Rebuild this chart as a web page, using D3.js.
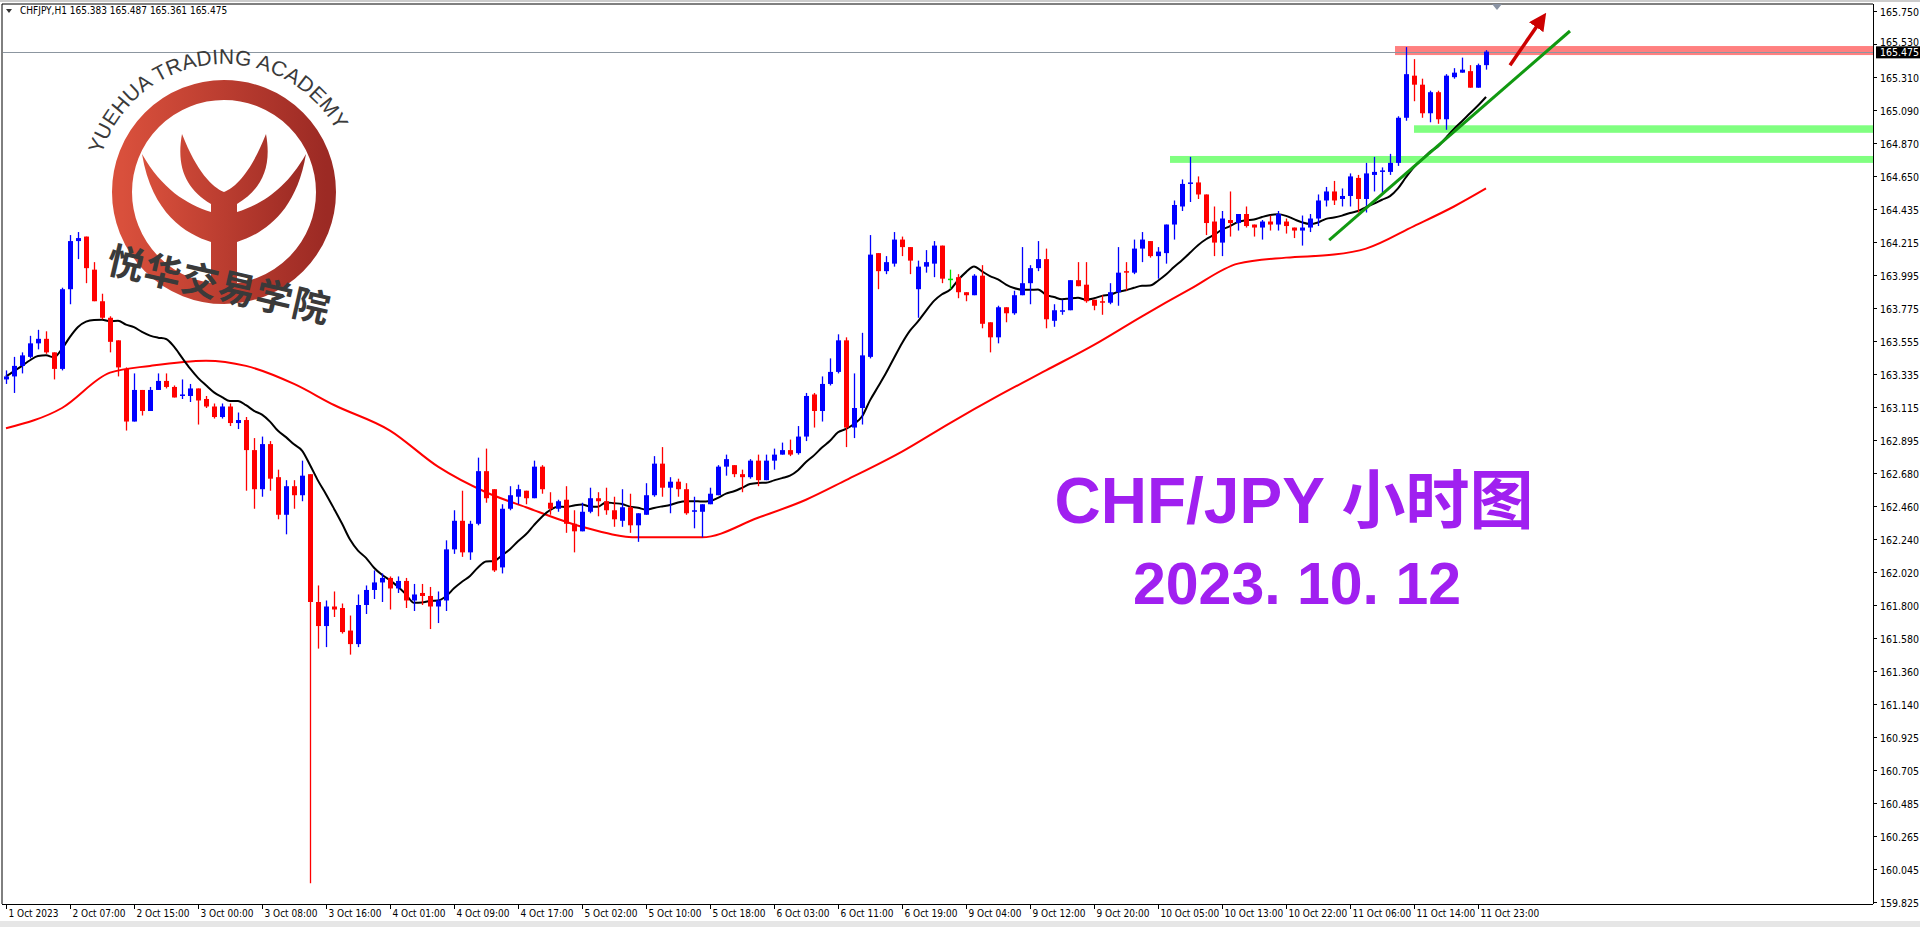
<!DOCTYPE html>
<html><head><meta charset="utf-8">
<script src="https://cdn.jsdelivr.net/npm/d3@7/dist/d3.min.js"></script>
<style>html,body{margin:0;padding:0;background:#fff;overflow:hidden}</style>
</head><body><svg id="c" width="1920" height="927"></svg>
<script>
const opens=[163.30,163.32,163.39,163.45,163.54,163.57,163.48,163.37,163.90,164.22,164.25,164.03,163.82,163.71,163.56,163.37,163.02,163.23,163.09,163.23,163.29,163.25,163.19,163.19,163.24,163.17,163.12,163.05,163.12,163.01,
163.03,162.83,162.57,162.87,162.65,162.40,162.59,162.53,162.67,161.82,161.66,161.79,161.78,161.63,161.54,161.80,161.90,161.95,161.98,161.91,161.96,161.83,161.88,161.86,161.79,161.83,162.17,162.36,162.15,162.34,
162.69,162.57,162.05,162.44,162.52,162.56,162.51,162.72,162.48,162.44,162.50,162.34,162.29,162.42,162.51,162.49,162.43,162.36,162.45,162.33,162.40,162.53,162.74,162.58,162.62,162.57,162.42,162.42,162.47,162.53,
162.72,162.73,162.67,162.65,162.76,162.63,162.76,162.80,162.83,162.81,162.92,163.20,163.09,163.27,163.35,163.56,162.98,163.11,163.45,164.14,164.02,164.07,164.23,164.18,163.90,164.05,164.07,164.19,163.97,163.98,
163.88,163.86,163.99,163.68,163.58,163.78,163.74,163.86,163.94,164.04,164.10,163.69,163.75,163.76,163.96,163.93,163.83,163.82,163.81,163.88,164.02,164.01,164.17,164.22,164.12,164.14,164.33,164.45,164.60,164.61,
164.53,164.35,164.21,164.36,164.34,164.40,164.33,164.31,164.35,164.33,164.35,164.31,164.29,164.31,164.37,164.49,164.55,164.50,164.52,164.64,164.50,164.66,164.68,164.68,164.74,165.04,165.32,165.26,165.07,165.21,
165.03,165.31,165.34,165.35,165.24,165.39];
const highs=[163.36,163.45,163.48,163.59,163.63,163.62,163.48,163.91,164.26,164.28,164.25,164.08,163.87,163.72,163.56,163.38,163.34,163.23,163.25,163.34,163.34,163.26,163.30,163.27,163.24,163.19,163.14,163.14,163.14,163.08,
163.05,162.91,162.92,162.89,162.70,162.63,162.63,162.76,162.67,161.93,161.83,161.89,161.81,161.73,161.87,161.93,162.03,162.01,161.99,161.99,161.98,161.94,161.94,161.92,161.89,162.23,162.43,162.56,162.36,162.78,
162.84,162.57,162.47,162.59,162.60,162.56,162.76,162.73,162.55,162.50,162.59,162.43,162.48,162.58,162.55,162.58,162.52,162.57,162.54,162.41,162.61,162.79,162.85,162.65,162.64,162.61,162.52,162.47,162.58,162.73,
162.80,162.73,162.70,162.77,162.80,162.80,162.84,162.88,162.90,162.99,163.21,163.21,163.32,163.44,163.60,163.58,163.34,163.61,164.26,164.14,164.12,164.28,164.25,164.18,164.09,164.16,164.22,164.19,164.03,164.00,
163.88,164.00,164.06,163.68,163.79,163.78,163.89,164.18,164.06,164.22,164.17,163.80,163.83,163.96,164.08,164.08,163.83,163.86,163.94,164.18,164.08,164.23,164.28,164.22,164.18,164.33,164.49,164.63,164.78,164.65,
164.53,164.45,164.42,164.55,164.40,164.45,164.33,164.36,164.39,164.42,164.37,164.31,164.39,164.40,164.53,164.58,164.62,164.57,164.67,164.66,164.74,164.78,164.71,164.80,165.05,165.51,165.43,165.30,165.22,165.22,
165.33,165.37,165.44,165.39,165.40,165.49];
const lows=[163.27,163.21,163.34,163.44,163.50,163.47,163.30,163.36,163.80,164.10,163.94,163.82,163.70,163.48,163.32,162.96,163.02,163.06,163.09,163.23,163.24,163.18,163.17,163.15,163.00,163.11,163.04,163.04,162.99,162.97,
162.56,162.44,162.52,162.56,162.37,162.27,162.44,162.49,159.95,161.51,161.52,161.72,161.61,161.47,161.52,161.74,161.84,161.82,161.77,161.88,161.78,161.76,161.80,161.64,161.68,161.76,162.14,162.12,162.10,162.33,
162.48,162.02,162.01,162.43,162.47,162.47,162.51,162.54,162.40,162.42,162.28,162.15,162.29,162.41,162.39,162.40,162.32,162.32,162.28,162.22,162.40,162.52,162.52,162.41,162.52,162.40,162.31,162.25,162.47,162.53,
162.66,162.65,162.55,162.64,162.59,162.63,162.70,162.80,162.79,162.80,162.89,162.98,163.02,163.26,163.34,162.85,162.91,163.00,163.44,163.90,164.00,164.05,164.12,164.00,163.71,164.01,163.98,163.94,163.90,163.84,
163.82,163.86,163.64,163.48,163.54,163.68,163.73,163.86,163.80,164.02,163.64,163.65,163.73,163.76,163.92,163.81,163.76,163.73,163.80,163.79,163.89,164.00,164.08,164.11,163.97,164.07,164.23,164.42,164.48,164.50,
164.26,164.12,164.12,164.25,164.29,164.31,164.25,164.23,164.29,164.29,164.27,164.24,164.19,164.28,164.32,164.45,164.46,164.45,164.45,164.41,164.41,164.55,164.54,164.66,164.72,165.02,165.15,165.04,165.01,165.00,
164.96,165.30,165.34,165.24,165.24,165.36];
const closes=[163.32,163.39,163.46,163.54,163.57,163.48,163.37,163.90,164.22,164.24,164.04,163.82,163.71,163.55,163.38,163.02,163.23,163.09,163.23,163.29,163.25,163.18,163.20,163.24,163.16,163.12,163.05,163.12,163.01,163.03,
162.83,162.57,162.87,162.64,162.40,162.59,162.53,162.66,161.82,161.66,161.79,161.77,161.62,161.54,161.80,161.90,161.95,161.98,161.91,161.96,161.83,161.87,161.86,161.79,161.83,162.17,162.36,162.15,162.34,162.69,
162.51,162.03,162.44,162.53,162.57,162.51,162.72,162.57,162.44,162.49,162.34,162.29,162.42,162.51,162.49,162.43,162.37,162.45,162.33,162.41,162.53,162.74,162.58,162.62,162.57,162.41,162.43,162.47,162.54,162.72,
162.77,162.67,162.65,162.76,162.63,162.76,162.80,162.83,162.80,162.92,163.19,163.09,163.27,163.35,163.56,162.98,163.11,163.46,164.13,164.02,164.08,164.23,164.18,164.09,164.05,164.08,164.19,163.97,163.97,163.88,
163.86,163.99,163.67,163.58,163.78,163.74,163.86,163.94,164.04,164.10,163.70,163.76,163.76,163.96,163.92,163.82,163.79,163.81,163.88,164.01,164.01,164.17,164.23,164.12,164.15,164.33,164.46,164.60,164.61,164.53,
164.34,164.21,164.37,164.34,164.40,164.32,164.31,164.35,164.33,164.40,164.32,164.29,164.31,164.37,164.49,164.55,164.49,164.52,164.65,164.50,164.67,164.68,164.69,164.74,165.04,165.33,165.26,165.07,165.21,165.03,
165.32,165.34,165.36,165.24,165.39,165.48];
const slowMaBars=[0,7,13,18,25,30,36,41,48,54,60,65,72,79,87,94,100,105,112,118,124,130,136,142,148,154,160,166,170,176,181,185];
const slowMaValues=[162.975,163.11,163.345,163.39,163.425,163.39,163.27,163.13,162.96,162.72,162.55,162.45,162.32,162.25,162.25,162.38,162.50,162.63,162.82,163.01,163.19,163.36,163.53,163.72,163.90,164.07,164.11,164.13,164.17,164.32,164.45,164.57];
const fastMaPeriod=14;
const timeLabels=["1 Oct 2023","2 Oct 07:00","2 Oct 15:00","3 Oct 00:00","3 Oct 08:00","3 Oct 16:00","4 Oct 01:00","4 Oct 09:00","4 Oct 17:00","5 Oct 02:00","5 Oct 10:00","5 Oct 18:00","6 Oct 03:00","6 Oct 11:00","6 Oct 19:00","9 Oct 04:00","9 Oct 12:00","9 Oct 20:00","10 Oct 05:00","10 Oct 13:00","10 Oct 22:00","11 Oct 06:00","11 Oct 14:00","11 Oct 23:00"];
const timeLabelStep=8;
const priceTicks=[165.750,165.530,165.310,165.090,164.870,164.650,164.435,164.215,163.995,163.775,163.555,163.335,163.115,162.895,162.680,162.460,162.240,162.020,161.800,161.580,161.360,161.140,160.925,160.705,160.485,160.265,160.045,159.825];
const lastPrice=165.475;
const header="CHFJPY,H1  165.383 165.487 165.361 165.475";
const resistZone=[165.457,165.517], resistFromBar=174;
const supportZones=[[164.94,164.99,176],[164.74,164.786,145.5]];
const trendLine=[[165.4,164.227],[195.5,165.617]];
const arrowPts=[[188,165.39],[191.9,165.69]];
const title1="CHF/JPY 小时图", title2="2023. 10. 12";

const svg=d3.select("#c");
const L=4,R=1873,T=4,B=904;
const y=d3.scaleLinear().domain([159.825,165.75]).range([902,11]);
const x=d3.scaleLinear().domain([0,1]).range([6,14]);
svg.append("rect").attr("x",0).attr("y",0).attr("width",1920).attr("height",927).attr("fill","#fff");
const defs=svg.append("defs");
svg.append("line").attr("x1",0).attr("x2",1920).attr("y1",1).attr("y2",1).attr("stroke","#999");
svg.append("line").attr("x1",2).attr("x2",R).attr("y1",T).attr("y2",T).attr("stroke","#000");
svg.append("line").attr("x1",2).attr("x2",2).attr("y1",T).attr("y2",B).attr("stroke","#000");
svg.append("line").attr("x1",R+0.5).attr("x2",R+0.5).attr("y1",T).attr("y2",B).attr("stroke","#000");
svg.append("line").attr("x1",2).attr("x2",R).attr("y1",B+0.5).attr("y2",B+0.5).attr("stroke","#000");
svg.append("rect").attr("x",0).attr("y",921).attr("width",1920).attr("height",6).attr("fill","#e6e6e6");

svg.append("rect").attr("x",x(resistFromBar)-3).attr("width",R-x(resistFromBar)+3)
 .attr("y",y(resistZone[1])).attr("height",y(resistZone[0])-y(resistZone[1])).attr("fill","#ff8080");
supportZones.forEach(z=>svg.append("rect").attr("x",x(z[2])).attr("width",R-x(z[2]))
 .attr("y",y(z[1])).attr("height",y(z[0])-y(z[1])).attr("fill","#80ff80"));
svg.append("line").attr("x1",3).attr("x2",R).attr("y1",Math.round(y(lastPrice))+0.5).attr("y2",Math.round(y(lastPrice))+0.5).attr("stroke","#8c96a0");

const fast=closes.map((c,i)=>d3.mean(closes.slice(Math.max(0,i-fastMaPeriod+1),i+1)));
svg.append("path").attr("d",d3.line().x((d,i)=>x(slowMaBars[i])).y(d=>y(d)).curve(d3.curveMonotoneX)(slowMaValues))
 .attr("fill","none").attr("stroke","#ff0000").attr("stroke-width",2);
svg.append("path").attr("d",d3.line().x((d,i)=>x(i)).y(d=>y(d)).curve(d3.curveMonotoneX)(fast))
 .attr("fill","none").attr("stroke","#000").attr("stroke-width",2);

const col=i=>closes[i]>opens[i]?"#0000ff":closes[i]<opens[i]?"#ff0000":"#00e000";
const cg=svg.append("g");
closes.forEach((c,i)=>{
 const cx=Math.round(x(i));
 cg.append("line").attr("x1",cx+0.5).attr("x2",cx+0.5).attr("y1",y(highs[i])).attr("y2",y(lows[i])).attr("stroke",col(i)).attr("stroke-width",1.3);
 const t=y(Math.max(opens[i],c)),b=y(Math.min(opens[i],c));
 cg.append("rect").attr("x",cx-2).attr("width",5).attr("y",t).attr("height",Math.max(1.5,b-t)).attr("fill",col(i));
});

svg.append("line").attr("x1",x(trendLine[0][0])).attr("y1",y(trendLine[0][1])).attr("x2",x(trendLine[1][0])).attr("y2",y(trendLine[1][1]))
 .attr("stroke","#119911").attr("stroke-width",3);
defs.append("marker").attr("id","ah").attr("viewBox","0 0 10 10").attr("refX",5).attr("refY",5)
 .attr("markerWidth",5).attr("markerHeight",5).attr("orient","auto").append("path").attr("d","M0,0L10,5L0,10z").attr("fill","#cc0000");
svg.append("line").attr("x1",x(arrowPts[0][0])).attr("y1",y(arrowPts[0][1])).attr("x2",x(arrowPts[1][0])).attr("y2",y(arrowPts[1][1]))
 .attr("stroke","#cc0000").attr("stroke-width",3.5).attr("marker-end","url(#ah)");

svg.append("path").attr("d","M6,9L12,9L9,13z").attr("fill","#333");
svg.append("text").attr("x",20).attr("y",14).attr("font-family","DejaVu Sans Condensed, Liberation Sans").attr("font-size",10).attr("fill","#000").text(header);
svg.append("path").attr("d","M1492,4L1502,4L1497,10z").attr("fill","#8a93a3");

const ax=svg.append("g");
priceTicks.forEach(p=>{
 const yy=Math.round(y(p))+0.5;
 ax.append("line").attr("x1",R).attr("x2",R+4).attr("y1",yy).attr("y2",yy).attr("stroke","#000");
 if(Math.abs(y(p)-y(lastPrice))>9)
 ax.append("text").attr("x",R+7).attr("y",yy+4).attr("font-family","DejaVu Sans Condensed, Liberation Sans").attr("font-size",10.5).attr("fill","#000").text(p.toFixed(3));
 else
 ax.append("text").attr("x",R+7).attr("y",yy+1).attr("font-family","DejaVu Sans Condensed, Liberation Sans").attr("font-size",10.5).attr("fill","#000").text(p.toFixed(3));
});
const ly=y(lastPrice);
ax.append("rect").attr("x",R+3).attr("y",ly-6).attr("width",44).attr("height",12).attr("fill","#000");
ax.append("text").attr("x",R+7).attr("y",ly+4).attr("font-family","DejaVu Sans Condensed, Liberation Sans").attr("font-size",10.5).attr("fill","#fff").text(lastPrice.toFixed(3));
timeLabels.forEach((t,k)=>{
 const xx=Math.round(x(k*timeLabelStep))+0.5;
 ax.append("line").attr("x1",xx).attr("x2",xx).attr("y1",B).attr("y2",B+5).attr("stroke","#000");
 ax.append("text").attr("x",xx+2).attr("y",917).attr("font-family","DejaVu Sans Condensed, Liberation Sans").attr("font-size",10).attr("fill","#000").text(t);
});

svg.append("text").attr("x",1294).attr("y",523).attr("text-anchor","middle").attr("font-family","Liberation Sans, Noto Sans CJK SC").attr("font-weight","bold").attr("font-size",64).attr("fill","#a020f0").text(title1);
svg.append("text").attr("x",1297).attr("y",604).attr("text-anchor","middle").attr("font-family","Liberation Sans, Noto Sans CJK SC").attr("font-weight","bold").attr("font-size",59).attr("fill","#a020f0").text(title2);

const lg=svg.append("g").attr("transform","translate(224,192)");
const gr=defs.append("linearGradient").attr("id","lgr").attr("x1","0").attr("x2","1").attr("y1","0").attr("y2","0");
gr.append("stop").attr("offset","0").attr("stop-color","#d9503c");
gr.append("stop").attr("offset","1").attr("stop-color","#9c2a24");
lg.append("circle").attr("r",102).attr("fill","none").attr("stroke","url(#lgr)").attr("stroke-width",20);
lg.append("path").attr("d","M-82,-38 C-72,22 -38,42 -13,50 L-13,96 L13,96 L13,50 C38,42 72,22 82,-38 C62,-3 38,12 13,20 L13,12 C38,-3 48,-25 42,-58 C27,-20 12,-5 0,0 C-12,-5 -27,-20 -42,-58 C-48,-25 -38,-3 -13,12 L-13,20 C-38,12 -62,-3 -82,-38Z").attr("fill","url(#lgr)");
const r=128,a1=-163*Math.PI/180,a2=-30*Math.PI/180;
defs.append("path").attr("id","arc").attr("d",`M${224+r*Math.cos(a1)},${192+r*Math.sin(a1)} A${r},${r} 0 0 1 ${224+r*Math.cos(a2)},${192+r*Math.sin(a2)}`);
svg.append("text").attr("font-family","Liberation Sans").attr("font-size",21).attr("fill","#3a3a3a")
 .append("textPath").attr("href","#arc").attr("textLength",300).text("YUEHUA TRADING ACADEMY");
svg.append("text").attr("transform","translate(216,298) rotate(13)").attr("text-anchor","middle").attr("font-family","Noto Sans CJK SC").attr("font-weight","bold").attr("font-size",37).attr("letter-spacing",1).attr("fill","#3a3a3a").text("悦华交易学院");
</script></body></html>
